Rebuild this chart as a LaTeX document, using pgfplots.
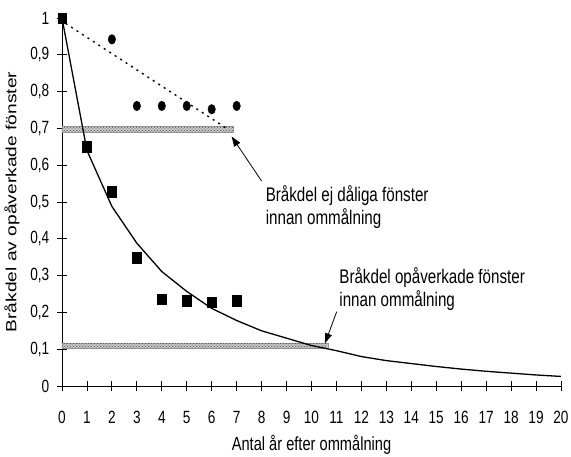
\documentclass[border=0pt]{standalone}
\usepackage{fontspec}
\setmainfont{Liberation Sans}[FakeStretch=0.77]
\newfontfamily\ylabelfont{Liberation Sans}
\usepackage{pgfplots}
\pgfplotsset{compat=1.18}
\usetikzlibrary{arrows.meta,patterns}

% share of windows still unaffected after repainting
\pgfplotstableread{
x y
0 1.000
1 0.640
2 0.488
3 0.388
4 0.311
5 0.257
6 0.211
7 0.178
8 0.150
9 0.130
10 0.110
11 0.096
12 0.080
13 0.069
14 0.061
15 0.053
16 0.046
17 0.040
18 0.035
19 0.030
20 0.026
}\fitcurve

\pgfplotstableread{
x y
0 1.000
1 0.650
2 0.528
3 0.349
4 0.236
5 0.232
6 0.227
7 0.232
}\unaffected

\pgfplotstableread{
x y
2 0.942
3 0.761
4 0.761
5 0.761
6 0.752
7 0.761
}\notpoor

\begin{document}
\begin{tikzpicture}
\useasboundingbox (-62pt,-70pt) rectangle (509pt,386pt);
\begin{axis}[
  at={(0pt,0pt)}, anchor=south west,
  scale only axis, width=499pt, height=368pt,
  xmin=0, xmax=20, ymin=0, ymax=1,
  axis x line*=bottom, axis y line*=left,
  axis line style={black, line width=0.8pt},
  xtick={0,1,...,20},
  ytick={0,0.1,0.2,0.3,0.4,0.5,0.6,0.7,0.8,0.9,1},
  tick style={black, line width=0.8pt},
  major tick length=10.5pt, tick align=center,
  tick label style={font=\fontsize{17.7}{20}\selectfont},
  xticklabel style={anchor=base, yshift=-32.5pt},
  yticklabel style={anchor=east, xshift=-4pt},
  /pgf/number format/.cd, assume math mode=true, use comma, fixed, precision=1,
  /pgfplots/.cd,
  xlabel={Antal år efter ommålning},
  xlabel style={at={(rel axis cs:0.5,0)}, anchor=center, yshift=-59pt, font=\fontsize{19}{22}\selectfont},
  ylabel={\scalebox{1}[0.77]{\ylabelfont\fontsize{19.2}{22}\selectfont Bråkdel av opåverkade fönster}},
  ylabel style={at={(axis description cs:-0.1002,0.5)}, anchor=center},
  clip=false,
]
% reference bands
\addplot[fill=black!22, draw=black!40, line width=0.4pt]
  coordinates {(0,0.689) (6.87,0.689) (6.87,0.705) (0,0.705) (0,0.689)};
\addplot[pattern=crosshatch dots, pattern color=black!70, draw=none]
  coordinates {(0,0.689) (6.87,0.689) (6.87,0.705) (0,0.705) (0,0.689)};
\addplot[fill=black!22, draw=black!40, line width=0.4pt]
  coordinates {(0,0.102) (10.65,0.102) (10.65,0.116) (0,0.116) (0,0.102)};
\addplot[pattern=crosshatch dots, pattern color=black!70, draw=none]
  coordinates {(0,0.102) (10.65,0.102) (10.65,0.116) (0,0.116) (0,0.102)};
% dotted trend for windows that were not poor
\addplot[black, line width=1.4pt, dash pattern=on 2pt off 4.5pt]
  coordinates {(0.15,0.985) (6.6,0.700)};
% fitted curve
\addplot[black, line width=1.3pt] table[x=x, y=y] {\fitcurve};
\addplot[only marks, mark=square*, mark size=5.2pt, mark options={xscale=0.82, fill=black, draw=black}]
  table[x=x, y=y] {\unaffected};
\addplot[only marks, mark=*, mark size=4.8pt, mark options={xscale=0.78, fill=black, draw=black}]
  table[x=x, y=y] {\notpoor};
% annotations
\draw[-{Triangle[length=10pt,width=7pt]}, line width=0.8pt] (axis cs:8.0,0.557) -- (axis cs:6.8,0.678);
\draw[-{Triangle[length=10pt,width=7pt]}, line width=0.8pt] (axis cs:11.01,0.202) -- (axis cs:10.54,0.116);
\node[anchor=base west, inner sep=0pt, font=\fontsize{19.7}{22}\selectfont] at (axis cs:8.16,0.501) {Bråkdel ej dåliga fönster};
\node[anchor=base west, inner sep=0pt, font=\fontsize{19.7}{22}\selectfont] at (axis cs:8.16,0.440) {innan ommålning};
\node[anchor=base west, inner sep=0pt, font=\fontsize{19.7}{22}\selectfont] at (axis cs:11.11,0.279) {Bråkdel opåverkade fönster};
\node[anchor=base west, inner sep=0pt, font=\fontsize{19.7}{22}\selectfont] at (axis cs:11.11,0.2155) {innan ommålning};
\end{axis}
\end{tikzpicture}
\end{document}
